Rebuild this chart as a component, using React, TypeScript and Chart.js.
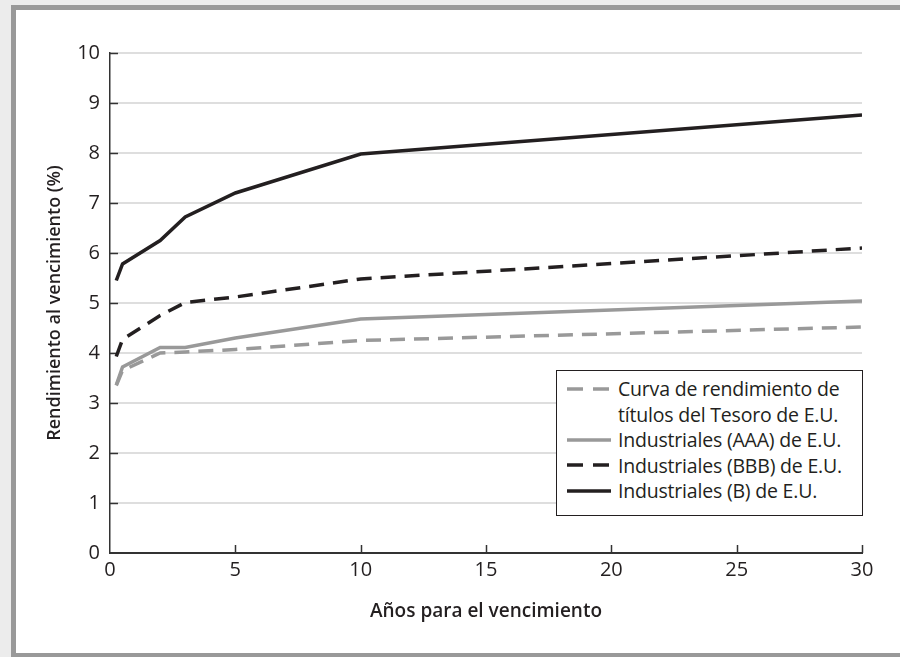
import React, { useEffect, useRef } from "react";
import { Chart, registerables } from "chart.js";

Chart.register(...registerables);

const maturities = [0.25, 0.5, 2, 3, 5, 10, 30];
const treasury = [3.35, 3.65, 4.0, 4.02, 4.07, 4.25, 4.52];
const aaa = [3.36, 3.72, 4.11, 4.11, 4.3, 4.68, 5.04];
const bbb = [3.93, 4.27, 4.75, 5.01, 5.12, 5.48, 6.1];
const bRated = [5.45, 5.78, 6.25, 6.72, 7.2, 7.98, 8.76];

const seriesLabels = [
  ["Curva de rendimiento de", "títulos del Tesoro de E.U."],
  ["Industriales (AAA) de E.U."],
  ["Industriales (BBB) de E.U."],
  ["Industriales (B) de E.U."],
];
const xTitle = "Años para el vencimiento";
const yTitle = "Rendimiento al vencimiento (%)";

const GRAY = "#999999";
const BLACK = "#231f20";
const DASH = [15, 9];
const FONT = "'Open Sans', sans-serif";

const styles = [
  { color: GRAY, dash: DASH },
  { color: GRAY, dash: [] as number[] },
  { color: BLACK, dash: DASH },
  { color: BLACK, dash: [] as number[] },
];
const allSeries = [treasury, aaa, bbb, bRated];

const inwardTicks = {
  id: "inwardTicks",
  beforeDatasetsDraw(chart: any) {
    const { ctx, chartArea, scales } = chart;
    ctx.save();
    ctx.strokeStyle = "#333";
    ctx.lineWidth = 1.5;
    const y = scales.y;
    for (let v = 1; v <= 10; v++) {
      const py = Math.round(y.getPixelForValue(v)) + 0.5;
      ctx.beginPath();
      ctx.moveTo(chartArea.left, py);
      ctx.lineTo(chartArea.left + 8, py);
      ctx.stroke();
    }
    const x = scales.x;
    for (let v = 5; v <= 30; v += 5) {
      const px = Math.round(x.getPixelForValue(v)) + 0.5;
      ctx.beginPath();
      ctx.moveTo(px, chartArea.bottom);
      ctx.lineTo(px, chartArea.bottom - 8);
      ctx.stroke();
    }
    ctx.restore();
  },
};

function LegendSample({ color, dash }: { color: string; dash: number[] }) {
  return (
    <svg width={44} height={10} style={{ display: "block" }}>
      <line
        x1={0}
        y1={5}
        x2={44}
        y2={5}
        stroke={color}
        strokeWidth={3.5}
        strokeDasharray={dash.length ? "16 10" : undefined}
      />
    </svg>
  );
}

export default function App() {
  const ref = useRef<HTMLCanvasElement | null>(null);

  useEffect(() => {
    document.body.style.margin = "0";
    const canvas = ref.current;
    if (!canvas) return;
    const chart = new Chart(canvas, {
      type: "line",
      data: {
        datasets: allSeries.map((s, i) => ({
          label: seriesLabels[i].join(" "),
          data: s.map((v, j) => ({ x: maturities[j], y: v })),
          borderColor: styles[i].color,
          borderDash: styles[i].dash,
          borderWidth: 3.5,
          pointRadius: 0,
          tension: 0,
          fill: false,
        })),
      },
      options: {
        animation: false,
        responsive: false,
        maintainAspectRatio: false,
        layout: { padding: { left: 44, top: 53, right: 38, bottom: 34 } },
        plugins: { legend: { display: false }, tooltip: { enabled: false } },
        scales: {
          x: {
            type: "linear",
            min: 0,
            max: 30,
            afterFit: (s: any) => {
              s.height = 70;
            },
            ticks: {
              stepSize: 5,
              padding: 5,
              color: "#231f20",
              font: { family: FONT, size: 20 },
              maxRotation: 0,
            },
            grid: { display: false, drawTicks: false },
            border: { display: true, color: "#333", width: 2 },
            title: {
              display: true,
              text: xTitle,
              color: "#231f20",
              padding: 0,
              font: { family: FONT, size: 19, weight: 600 },
            },
          },
          y: {
            min: 0,
            max: 10,
            afterFit: (s: any) => {
              s.width = 66;
            },
            ticks: {
              stepSize: 1,
              padding: 10,
              color: "#231f20",
              font: { family: FONT, size: 20 },
            },
            grid: {
              drawTicks: false,
              color: (c: any) => (c.tick && c.tick.value === 0 ? "rgba(0,0,0,0)" : "#dedede"),
              lineWidth: 2,
            },
            border: { display: true, color: "#333", width: 1.5 },
            title: {
              display: true,
              text: yTitle,
              color: "#231f20",
              padding: 0,
              font: { family: FONT, size: 18, weight: 600 },
            },
          },
        },
      },
      plugins: [inwardTicks],
    });
    return () => chart.destroy();
  }, []);

  return (
    <div
      style={{
        position: "relative",
        width: 900,
        height: 657,
        overflow: "hidden",
        background: "#ececec",
      }}
    >
      <div
        style={{
          position: "absolute",
          left: 11,
          top: 5,
          width: 900,
          height: 652,
          boxSizing: "border-box",
          borderLeft: "5px solid #999",
          borderTop: "5px solid #999",
          borderBottom: "4px solid #999",
          background: "#fff",
        }}
      />
      <canvas
        ref={ref}
        width={900}
        height={657}
        style={{ position: "absolute", left: 0, top: 0, width: 900, height: 657 }}
      />
      <div
        style={{
          position: "absolute",
          left: 556,
          top: 370,
          width: 307,
          height: 146,
          boxSizing: "border-box",
          border: "1.5px solid #231f20",
          background: "#fff",
          padding: "5px 0 0 10px",
          fontFamily: FONT,
          fontSize: 19.5,
          color: "#231f20",
          lineHeight: "25.5px",
          letterSpacing: "-0.2px",
        }}
      >
        {seriesLabels.map((lines, i) => (
          <div key={i} style={{ display: "flex", alignItems: "flex-start" }}>
            <div style={{ height: 25.5, display: "flex", alignItems: "center", marginRight: 7 }}>
              <LegendSample color={styles[i].color} dash={styles[i].dash} />
            </div>
            <div style={{ whiteSpace: "nowrap" }}>
              {lines.map((l, k) => (
                <div key={k}>{l}</div>
              ))}
            </div>
          </div>
        ))}
      </div>
    </div>
  );
}
